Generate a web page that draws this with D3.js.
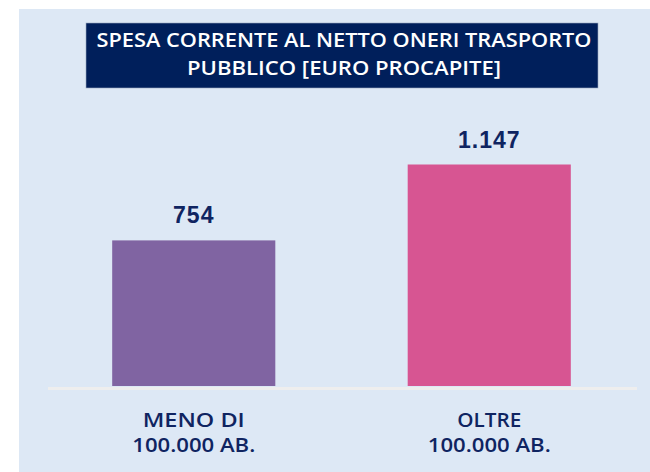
<!DOCTYPE html>
<html lang="it">
<head>
<meta charset="UTF-8">
<title>Spesa corrente</title>
<script src="https://d3js.org/d3.v7.min.js"></script>
<style>
  html, body { margin: 0; padding: 0; background: #ffffff; }
  svg { display: block; }
</style>
</head>
<body>
<div id="chart"></div>
<script>
// data
const categories = ["MENO DI\n100.000 AB.", "OLTRE\n100.000 AB."];
const values = [754, 1147];
const valueLabels = ["754", "1.147"];
const barColors = ["#8064a2", "#d75592"];
const titleLines = ["SPESA CORRENTE AL NETTO ONERI TRASPORTO", "PUBBLICO [EURO PROCAPITE]"];

const W = 650, H = 472;
const navy = "#0f2461";

const svg = d3.select("#chart").append("svg")
    .attr("width", W)
    .attr("height", H);

// light blue panel
svg.append("rect")
    .attr("x", 19).attr("y", 9)
    .attr("width", 631).attr("height", 463)
    .attr("fill", "#dde8f5");

// title box
svg.append("rect")
    .attr("x", 86).attr("y", 23)
    .attr("width", 512).attr("height", 65)
    .attr("fill", "#001f5b")
    .attr("stroke", "#9aa8c0")
    .attr("stroke-width", 0.6);

const titleWidths = [495, 314];
svg.selectAll(".title")
    .data(titleLines)
    .enter()
    .append("text")
    .attr("class", "title")
    .attr("x", 344)
    .attr("y", (d, i) => 47 + i * 28)
    .attr("text-anchor", "middle")
    .attr("fill", "#ffffff")
    .attr("font-family", "'Open Sans', 'DejaVu Sans', sans-serif")
    .attr("font-weight", 600)
    .attr("font-size", 19.5)
    .attr("textLength", (d, i) => titleWidths[i])
    .attr("lengthAdjust", "spacingAndGlyphs")
    .text(d => d);

// scales
const baseY = 386;
const x = d3.scaleBand()
    .domain(categories)
    .range([46, 637])
    .paddingInner(0.448)
    .paddingOuter(0.224);

const y = d3.scaleLinear()
    .domain([0, 1147])
    .range([baseY, 164.5]);

// baseline
svg.append("line")
    .attr("x1", 48).attr("x2", 637)
    .attr("y1", baseY + 2.5).attr("y2", baseY + 2.5)
    .attr("stroke", "#eeeeee")
    .attr("stroke-width", 3);

// bars
svg.selectAll(".bar")
    .data(values)
    .enter()
    .append("rect")
    .attr("class", "bar")
    .attr("x", (d, i) => x(categories[i]))
    .attr("y", d => y(d))
    .attr("width", x.bandwidth())
    .attr("height", d => baseY - y(d))
    .attr("fill", (d, i) => barColors[i]);

// value labels
svg.selectAll(".val")
    .data(values)
    .enter()
    .append("text")
    .attr("class", "val")
    .attr("x", (d, i) => x(categories[i]) + x.bandwidth() / 2)
    .attr("y", d => y(d) - 17)
    .attr("text-anchor", "middle")
    .attr("fill", navy)
    .attr("font-family", "'Liberation Sans', Arial, sans-serif")
    .attr("font-weight", "bold")
    .attr("font-size", 23)
    .attr("letter-spacing", 1)
    .text((d, i) => valueLabels[i]);

// category labels, one text per line so each can get its own width
const lineWidth = { "MENO DI": 102, "OLTRE": 64, "100.000 AB.": 123 };
const catLines = categories.flatMap(c => c.split("\n").map((t, i) => ({ c: c, t: t, i: i })));

svg.selectAll(".cat")
    .data(catLines)
    .enter()
    .append("text")
    .attr("class", "cat")
    .attr("x", d => x(d.c) + x.bandwidth() / 2)
    .attr("y", d => 427 + d.i * 25)
    .attr("text-anchor", "middle")
    .attr("fill", navy)
    .attr("font-family", "'Open Sans', 'DejaVu Sans', sans-serif")
    .attr("font-weight", 600)
    .attr("font-size", 20)
    .attr("textLength", d => lineWidth[d.t])
    .attr("lengthAdjust", "spacingAndGlyphs")
    .text(d => d.t);
</script>
</body>
</html>
